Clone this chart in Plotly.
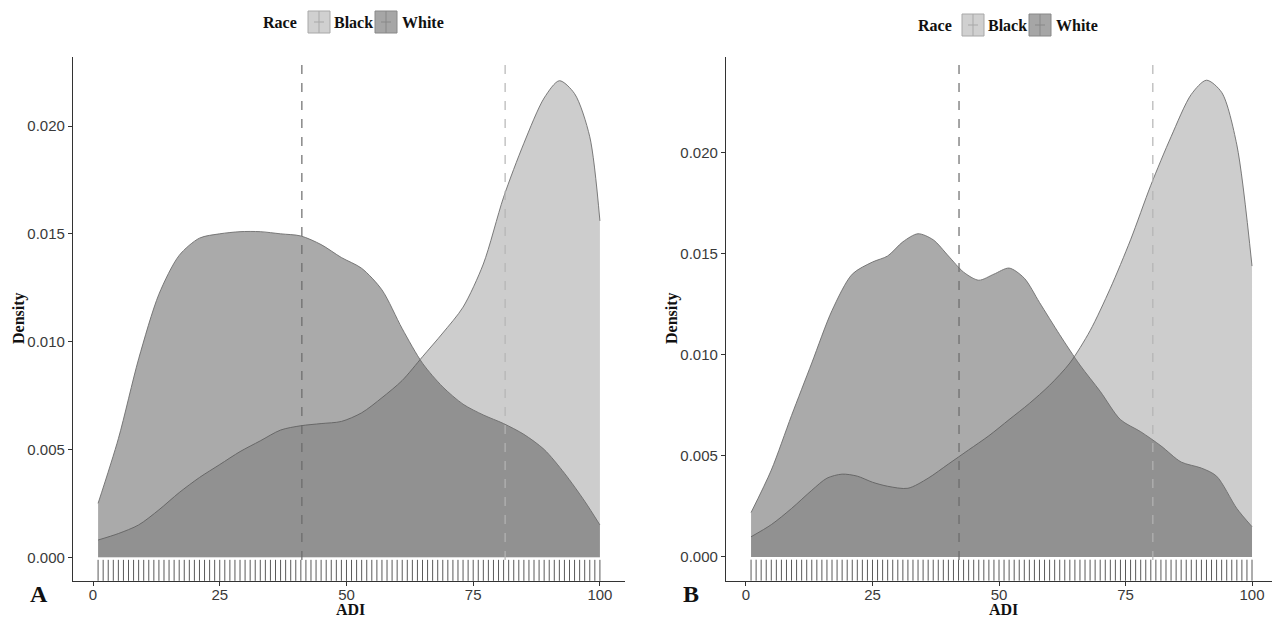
import plotly.graph_objects as go

# ---------------- data ----------------
race_levels = ["Black", "White"]
rug_adi = list(range(1, 101))

# Panel A
a_black_x = [1, 5, 9, 13, 17, 21, 25, 29, 33, 37, 41, 45, 49, 53, 57, 61, 65, 69, 73, 77, 81, 85, 89, 92, 95, 98, 100]
a_black_y = [0.0008, 0.0011, 0.0015, 0.0022, 0.0030, 0.0037, 0.0043, 0.0049, 0.0054, 0.0059, 0.0061, 0.0062,
             0.0063, 0.0067, 0.0074, 0.0082, 0.0093, 0.0104, 0.0116, 0.0136, 0.0167, 0.0192, 0.0213, 0.0221,
             0.0215, 0.0195, 0.0156]
a_white_x = [1, 5, 9, 13, 17, 21, 25, 29, 33, 37, 41, 45, 49, 53, 57, 61, 65, 69, 73, 77, 81, 85, 89, 93, 97, 100]
a_white_y = [0.0025, 0.0055, 0.0092, 0.0122, 0.0140, 0.0148, 0.0150, 0.0151, 0.0151, 0.0150, 0.0149, 0.0145,
             0.0139, 0.0134, 0.0124, 0.0106, 0.0090, 0.0079, 0.0071, 0.0066, 0.0062, 0.0057, 0.0050, 0.0039,
             0.0026, 0.0015]
a_median_white = 41.2
a_median_black = 81.3

# Panel B
b_black_x = [1, 5, 9, 13, 16, 19, 22, 25, 28, 32, 36, 40, 44, 48, 52, 56, 60, 64, 68, 72, 76, 80, 84, 88, 91, 94, 97, 100]
b_black_y = [0.0010, 0.0016, 0.0024, 0.0033, 0.0039, 0.0041, 0.0040, 0.0037, 0.0035, 0.0034, 0.0039, 0.0046,
             0.0053, 0.0060, 0.0068, 0.0076, 0.0085, 0.0096, 0.0112, 0.0133, 0.0157, 0.0184, 0.0208, 0.0229,
             0.0236, 0.0230, 0.0204, 0.0144]
b_white_x = [1, 5, 9, 13, 17, 21, 25, 28, 31, 34, 37, 40, 43, 46, 49, 52, 55, 58, 62, 66, 70, 74, 78, 82, 86, 90, 93, 97, 100]
b_white_y = [0.0022, 0.0043, 0.0070, 0.0096, 0.0122, 0.0140, 0.0146, 0.0149, 0.0156, 0.0160, 0.0157, 0.0149,
             0.0141, 0.0137, 0.0140, 0.0143, 0.0138, 0.0126, 0.0110, 0.0095, 0.0082, 0.0068, 0.0062, 0.0055,
             0.0047, 0.0044, 0.0040, 0.0024, 0.0015]
b_median_white = 42.1
b_median_black = 80.4

x_ticks = [0, 25, 50, 75, 100]
y_ticks = [0.000, 0.005, 0.010, 0.015, 0.020]
y_tick_text = ["0.000", "0.005", "0.010", "0.015", "0.020"]

# ---------------- style ----------------
W, H = 1272, 618
fill_black = "rgba(155,155,155,0.5)"
fill_white = "rgba(85,85,85,0.5)"
line_col = "rgba(110,110,110,0.9)"
serif = "Liberation Serif"
sans = "Liberation Sans"


def px(x):
    return x / W


def py(y):
    return 1 - y / H


fig = go.Figure()

panels = [
    dict(xa="x", ya="y", bx=a_black_x, by=a_black_y, wx=a_white_x, wy=a_white_y,
         mw=a_median_white, mb=a_median_black, yr=[-0.00110, 0.02320]),
    dict(xa="x2", ya="y2", bx=b_black_x, by=b_black_y, wx=b_white_x, wy=b_white_y,
         mw=b_median_white, mb=b_median_black, yr=[-0.00119, 0.02475]),
]

for p in panels:
    fig.add_trace(go.Scatter(x=p["bx"], y=p["by"], xaxis=p["xa"], yaxis=p["ya"], mode="lines",
                             line=dict(color=line_col, width=1, shape="spline", smoothing=0.8),
                             fill="tozeroy", fillcolor=fill_black, name=race_levels[0], showlegend=False))
    fig.add_trace(go.Scatter(x=p["wx"], y=p["wy"], xaxis=p["xa"], yaxis=p["ya"], mode="lines",
                             line=dict(color=line_col, width=1, shape="spline", smoothing=0.8),
                             fill="tozeroy", fillcolor=fill_white, name=race_levels[1], showlegend=False))
    rug_y = p["yr"][0] * 0.55
    fig.add_trace(go.Scatter(x=rug_adi, y=[rug_y] * len(rug_adi), xaxis=p["xa"], yaxis=p["ya"], mode="markers",
                             marker=dict(symbol="line-ns", size=15, line=dict(color="#5a5a5a", width=1)),
                             showlegend=False, hoverinfo="skip"))
    fig.add_shape(type="line", xref=p["xa"], yref=p["ya"] + " domain", x0=p["mw"], x1=p["mw"], y0=0.04, y1=1,
                  line=dict(color="#6a6a6a", width=1.2, dash="dash"))
    fig.add_shape(type="line", xref=p["xa"], yref=p["ya"] + " domain", x0=p["mb"], x1=p["mb"], y0=0.04, y1=1,
                  line=dict(color="#b4b4b4", width=1.2, dash="dash"))

axis_common = dict(showgrid=False, zeroline=False, showline=True, linecolor="#333333", linewidth=1.2,
                   ticks="outside", ticklen=4, tickcolor="#333333", tickwidth=1,
                   tickfont=dict(family=sans, size=15, color="#3a3a3a"))

ydom = [py(581), py(57)]
fig.update_layout(
    width=W, height=H, margin=dict(l=0, r=0, t=0, b=0),
    paper_bgcolor="white", plot_bgcolor="white",
    xaxis=dict(domain=[px(73), px(625)], range=[-3.95, 104.95], tickvals=x_ticks, anchor="y",
               ticklabelstandoff=-4, **axis_common),
    yaxis=dict(domain=ydom, range=panels[0]["yr"], tickvals=y_ticks, ticktext=y_tick_text, anchor="x",
               **axis_common),
    xaxis2=dict(domain=[px(726), 1.0], range=[-3.95, 103.95], tickvals=x_ticks, anchor="y2",
                ticklabelstandoff=-4, **axis_common),
    yaxis2=dict(domain=ydom, range=panels[1]["yr"], tickvals=y_ticks, ticktext=y_tick_text, anchor="x2",
                **axis_common),
    showlegend=False,
)

title_font = dict(family=serif, size=16, color="#111111")
C = dict(showarrow=False, xref="paper", yref="paper", xanchor="center", yanchor="middle")
ann = []
ann.append(dict(x=px(350), y=py(609), text="<b>ADI</b>", font=title_font, **C))
ann.append(dict(x=px(1003), y=py(609), text="<b>ADI</b>", font=title_font, **C))
ann.append(dict(x=px(19), y=py(318), text="<b>Density</b>", textangle=-90, font=title_font, **C))
ann.append(dict(x=px(672), y=py(318), text="<b>Density</b>", textangle=-90, font=title_font, **C))
ann.append(dict(x=px(39), y=py(594), text="<b>A</b>", font=dict(family=serif, size=24, color="#111111"), **C))
ann.append(dict(x=px(691), y=py(594), text="<b>B</b>", font=dict(family=serif, size=24, color="#111111"), **C))

# custom ggplot-like legends
key_fill = {"Black": "#d0d0d0", "White": "#a6a6a6"}
key_border = {"Black": "#a8a8a8", "White": "#888888"}
legend_specs = [
    dict(title_x=280, cy=22, keys=[("Black", 308, 332), ("White", 375, 400)]),
    dict(title_x=935, cy=25, keys=[("Black", 962, 986), ("White", 1029, 1054)]),
]
L = dict(showarrow=False, xref="paper", yref="paper", xanchor="left", yanchor="middle")
for spec in legend_specs:
    cy = spec["cy"]
    ann.append(dict(x=px(spec["title_x"]), y=py(cy), text="<b>Race</b>",
                    font=dict(family=serif, size=16, color="#111111"), **C))
    for lab, kx, tx in spec["keys"]:
        fig.add_shape(type="rect", xref="paper", yref="paper", x0=px(kx), x1=px(kx + 22), y0=py(cy - 11),
                      y1=py(cy + 11), fillcolor=key_fill[lab], line=dict(color=key_border[lab], width=1))
        fig.add_shape(type="line", xref="paper", yref="paper", x0=px(kx + 11), x1=px(kx + 11), y0=py(cy - 11),
                      y1=py(cy + 11), line=dict(color=key_border[lab], width=1))
        fig.add_shape(type="line", xref="paper", yref="paper", x0=px(kx + 6), x1=px(kx + 16), y0=py(cy),
                      y1=py(cy), line=dict(color=key_border[lab], width=1))
        ann.append(dict(x=px(tx), y=py(cy), text="<b>" + lab + "</b>",
                        font=dict(family=serif, size=16, color="#111111"), **L))

fig.update_layout(annotations=ann)
fig.write_html("out.html", config={"displayModeBar": False},
               post_script="document.body.style.margin='0px';document.body.style.overflow='hidden';")
